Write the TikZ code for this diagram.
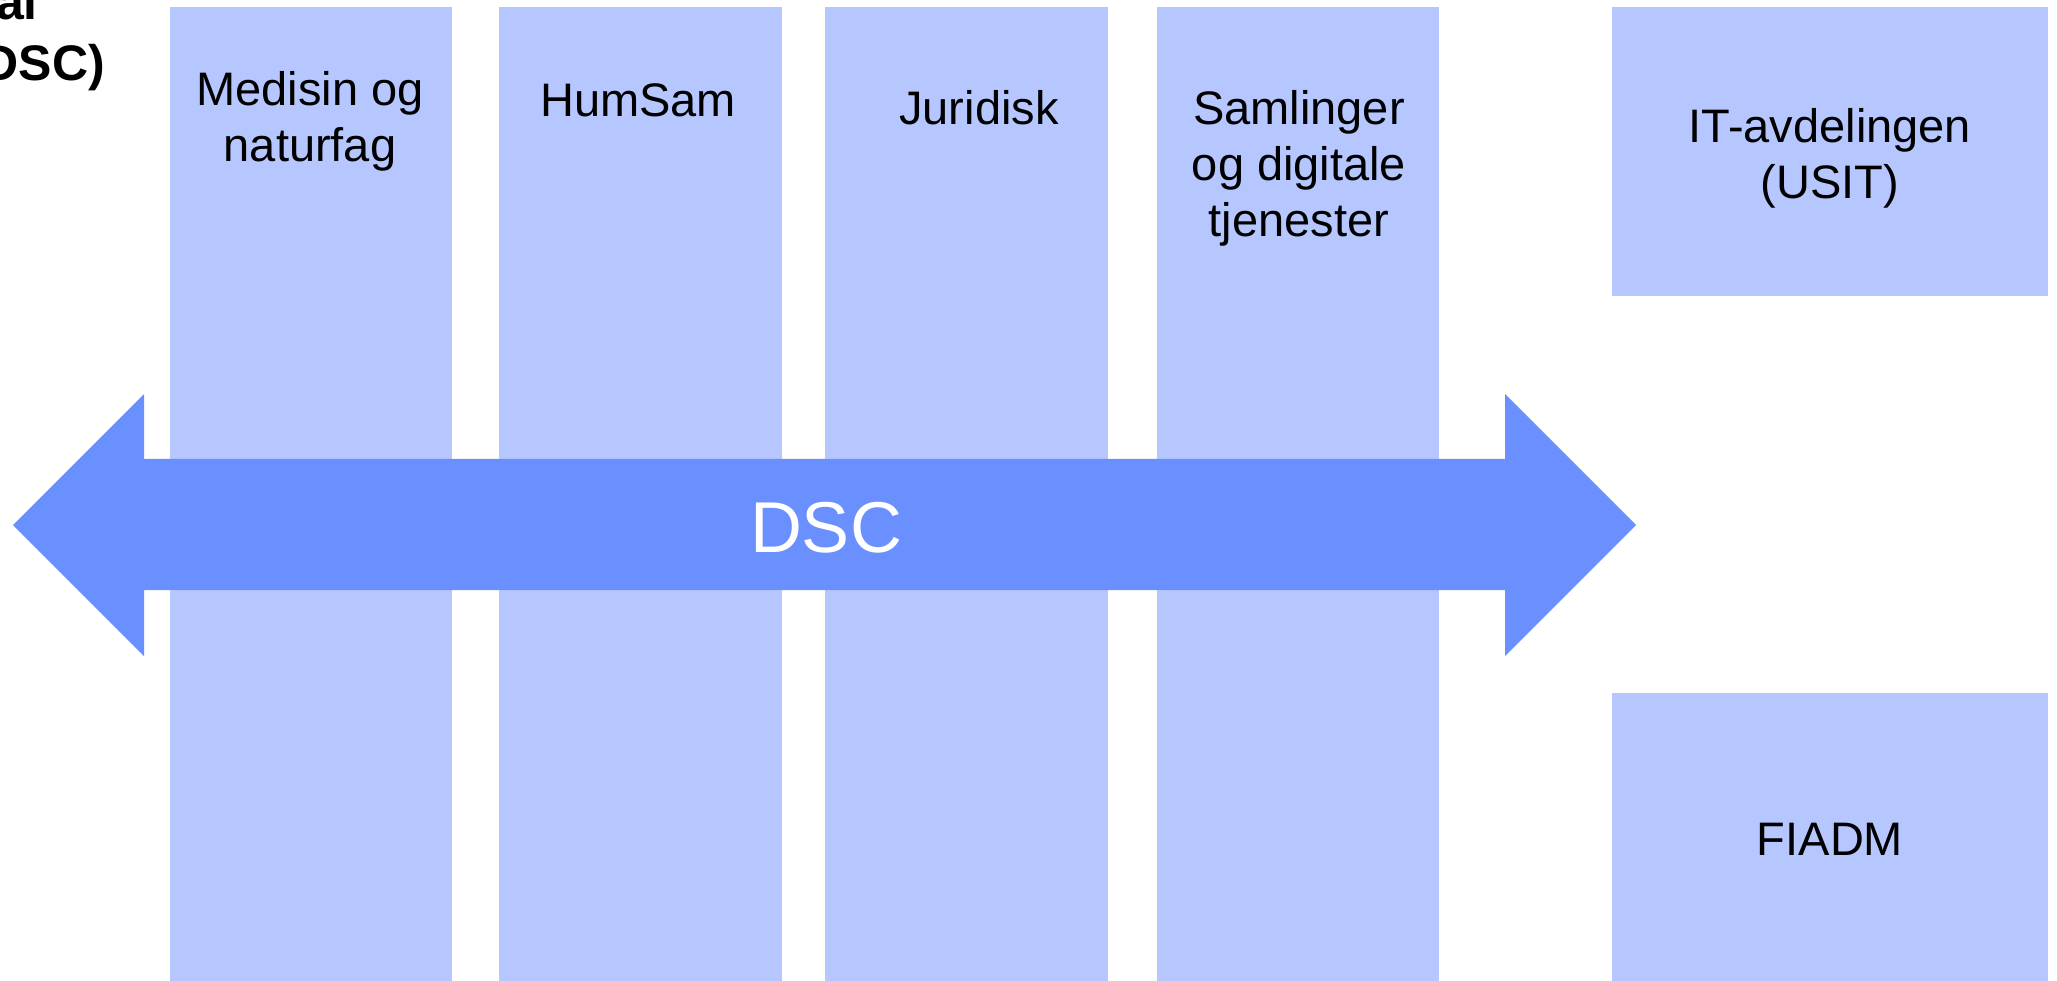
\documentclass[tikz,border=0pt]{standalone}
\usepackage{fontspec}
\setmainfont{Liberation Sans}
\definecolor{boxblue}{RGB}{182,198,254}
\definecolor{arrowblue}{RGB}{106,143,255}
\begin{document}
\begin{tikzpicture}[x=1pt,y=-1pt,
  colbox/.style={fill=boxblue,draw=none},
  lbl/.style={inner sep=0pt,anchor=base,align=center,font=\fontsize{47}{56}\selectfont},
  ttl/.style={inner sep=0pt,anchor=base east,font=\fontsize{50}{60}\selectfont\bfseries}]
\useasboundingbox (0,0) rectangle (2057,981);
\clip (0,0) rectangle (2057,981);
% columns
\path[colbox] (170,7) rectangle (452,981);
\path[colbox] (499,7) rectangle (782,981);
\path[colbox] (825,7) rectangle (1108,981);
\path[colbox] (1157,7) rectangle (1439,981);
\path[colbox] (1612,7) rectangle (2048,296);
\path[colbox] (1612,693) rectangle (2048,981);
% double arrow
\fill[arrowblue] (13,525) -- (144,394) -- (144,459) -- (1505,459) -- (1505,394)
  -- (1636,525) -- (1505,656) -- (1505,590) -- (144,590) -- (144,656) -- cycle;
% labels (base = baseline of the last line)
\node[lbl] (med) at (310,162) {Medisin og\\naturfag};
\node[lbl] (hum) at (638,117) {HumSam};
\node[lbl] (jur) at (979,125) {Juridisk};
\node[lbl] (sam) at (1299,237) {Samlinger\\og digitale\\tjenester};
\node[lbl] (usit) at (1830,199) {IT-avdelingen\\(USIT)};
\node[lbl] (fiadm) at (1830,855) {FIADM};
\node[inner sep=0pt,anchor=base,text=white,font=\fontsize{72}{86}\selectfont] (dsc) at (826,552) {DSC};
% clipped title
\node[ttl] (t1) at (38,20) {al};
\node[ttl] (t2) at (105,81) {(DSC)};
\end{tikzpicture}
\end{document}
